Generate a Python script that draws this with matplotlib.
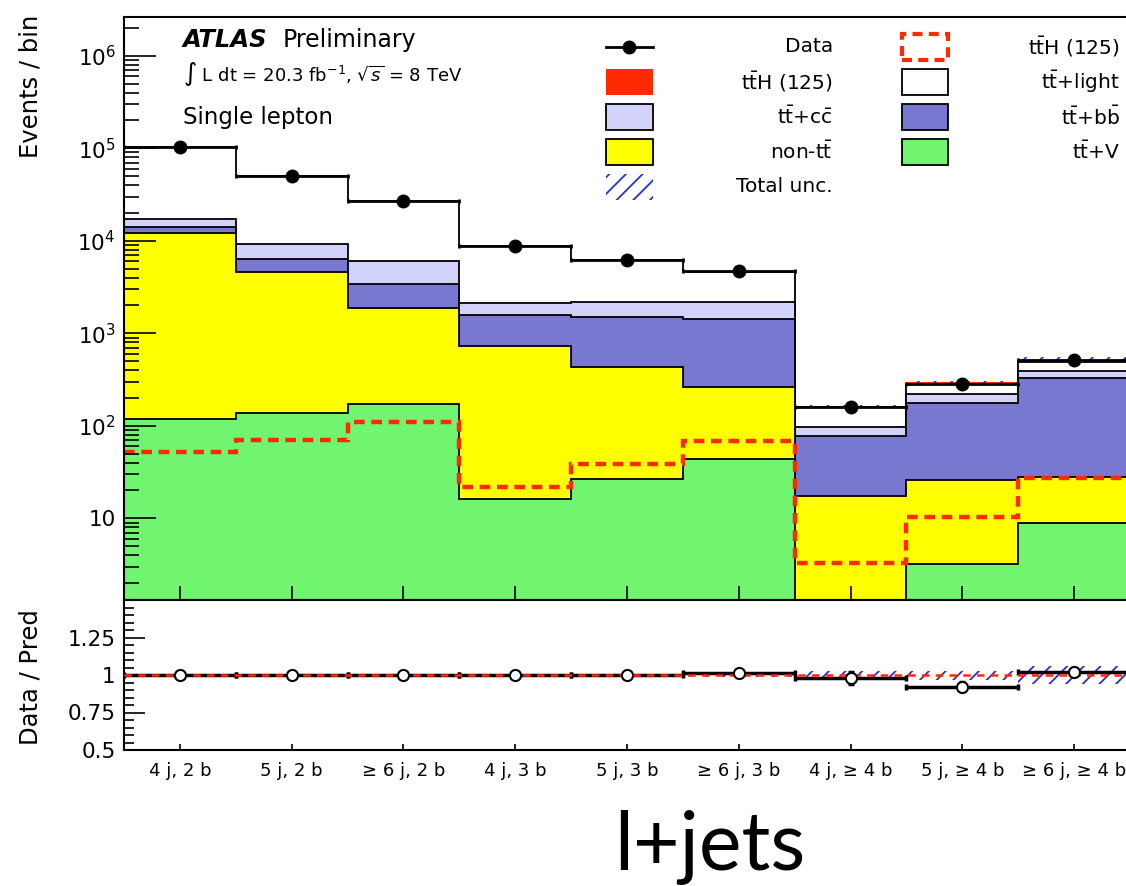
import numpy as np
import matplotlib.pyplot as plt
from matplotlib.patches import Rectangle
from matplotlib.lines import Line2D
from matplotlib.ticker import FixedLocator, LogLocator, MultipleLocator, NullFormatter

categories = ['4 j, 2 b', '5 j, 2 b', '≥ 6 j, 2 b', '4 j, 3 b', '5 j, 3 b', '≥ 6 j, 3 b',
              '4 j, ≥ 4 b', '5 j, ≥ 4 b', '≥ 6 j, ≥ 4 b']
data = [103000, 50000, 27000, 8800, 6200, 4700, 160, 281, 513]
# stacked backgrounds, bottom to top
ttV = [118, 136, 172, 16.3, 26.3, 43.6, 1.0, 3.2, 8.8]
non_tt = [12080, 4414, 1688, 712, 408, 216, 16.5, 22.7, 19.2]
tt_bb = [1900, 1750, 1520, 842, 1076, 1170, 60.5, 149, 297]
tt_cc = [3100, 3000, 2720, 530, 660, 740, 19.6, 45, 68]
tt_light = [85700, 40600, 20800, 6680, 4000, 2410, 61, 65, 100]
ttH = [52, 71, 110, 22, 39, 68, 3.3, 10.4, 27]
ratio = [1.0, 1.0, 0.997, 1.003, 0.998, 1.011, 0.978, 0.922, 1.022]
ratio_err = [0.003, 0.004, 0.005, 0.01, 0.012, 0.015, 0.04, 0.03, 0.025]
total_unc = [0.004, 0.004, 0.005, 0.006, 0.007, 0.01, 0.03, 0.03, 0.06]

colors = ['#71f571', '#ffff00', '#7878d0', '#d2d2fa', '#ffffff', '#ff2a00']
hatch_blue = '#2233cc'
plt.rcParams['hatch.linewidth'] = 1.3

W, H = 1126, 886
def fx(px): return px / W
def fy(py): return 1 - py / H

fig = plt.figure(figsize=(W / 100, H / 100), dpi=100)
ax = fig.add_axes([fx(124), fy(600), (1130 - 124) / W, (600 - 17) / H])
rax = fig.add_axes([fx(124), fy(750), (1130 - 124) / W, 150 / H])

n = len(categories)
edges = np.arange(n + 1)
centers = edges[:-1] + 0.5

# ---- main panel
stack = np.cumsum(np.vstack([ttV, non_tt, tt_bb, tt_cc, tt_light, ttH]), axis=0)
for i in range(len(stack) - 1, -1, -1):
    ec = 'none' if i == len(stack) - 1 else 'black'
    ax.stairs(stack[i], edges, baseline=1e-2, fill=True, facecolor=colors[i],
              edgecolor=ec, linewidth=1.3)
pred = stack[-1]
unc = np.array(total_unc)
ax.bar(centers, 2 * unc * pred, bottom=pred * (1 - unc), width=1, fill=False,
       hatch='//', edgecolor=hatch_blue, linewidth=0)
ax.stairs(ttH, edges, baseline=None, color='#ff2a00', linewidth=3.2,
          linestyle=(0, (2.4, 1.5)))
ax.errorbar(centers, data, xerr=0.5, fmt='o', color='black', ms=9, lw=2,
            capsize=1.5, capthick=2, zorder=5)

ax.set_xlim(0, n)
ax.set_yscale('log')
ax.set_ylim(1.31, 2.62e6)
ax.yaxis.set_major_locator(FixedLocator([10, 1e2, 1e3, 1e4, 1e5, 1e6]))
ax.set_yticklabels(['10', '$10^2$', '$10^3$', '$10^4$', '$10^5$', '$10^6$'])
ax.yaxis.set_minor_locator(LogLocator(subs=np.arange(2, 10), numticks=20))
ax.yaxis.set_minor_formatter(NullFormatter())
ax.tick_params(axis='y', which='major', direction='in', length=23, width=1.2,
               labelsize=15.5, pad=6)
ax.tick_params(axis='y', which='minor', direction='in', length=11, width=1.2)
ax.set_xticks(centers)
ax.tick_params(axis='x', direction='in', length=10, width=1.2, labelbottom=False)
for s in ax.spines.values():
    s.set_linewidth(1.5)

# ---- ratio panel
rax.bar(centers, 2 * unc, bottom=1 - unc, width=1, fill=False, hatch='//',
        edgecolor=hatch_blue, linewidth=0)
rax.errorbar(centers, ratio, xerr=0.5, yerr=ratio_err, fmt='none', ecolor='black',
             elinewidth=2.5, capsize=2.5, capthick=2.5, zorder=2)
rax.axhline(1, color='#ff2a00', linewidth=1.8, linestyle=(0, (3, 2.5)), zorder=3)
rax.plot(centers, ratio, 'o', mfc='white', mec='black', mew=1.5, ms=8, zorder=4)

rax.set_xlim(0, n)
rax.set_ylim(0.5, 1.5)
rax.set_yticks([0.5, 0.75, 1, 1.25])
rax.set_yticklabels(['0.5', '0.75', '1', '1.25'])
rax.yaxis.set_minor_locator(MultipleLocator(0.05))
rax.tick_params(axis='y', which='major', direction='in', length=15, width=1.2,
                labelsize=15.5, pad=6)
rax.tick_params(axis='y', which='minor', direction='in', length=7, width=1.2)
rax.set_xticks(centers)
rax.set_xticklabels(categories)
rax.tick_params(axis='x', direction='in', length=4.5, width=1.2, labelsize=13, pad=9)
for s in rax.spines.values():
    s.set_linewidth(1.5)

# ---- axis titles
fig.text(fx(31), fy(15), 'Events / bin', rotation=90, ha='center', va='top', fontsize=17.5)
fig.text(fx(31), fy(677), 'Data / Pred', rotation=90, ha='center', va='center', fontsize=17.5)

# ---- labels
fig.text(fx(183), fy(47), 'ATLAS', fontsize=17.5, fontweight='bold', fontstyle='italic')
fig.text(fx(283), fy(47), 'Preliminary', fontsize=17)
fig.text(fx(183), fy(81), r'$\int$ L dt = 20.3 fb$^{-1}$, $\sqrt{s}$ = 8 TeV', fontsize=13)
fig.text(fx(183), fy(124), 'Single lepton', fontsize=16.5)

# ---- legend
bw, bh = 47, 25
rows = [47, 82, 117, 152, 187]
entries = [
    (629, rows[0], 'data', None, 'Data', 833),
    (629, rows[1], 'box', colors[5], r't$\bar{\rm t}$H (125)', 833),
    (629, rows[2], 'box', colors[3], r't$\bar{\rm t}$+c$\bar{\rm c}$', 833),
    (629, rows[3], 'box', colors[1], r'non-t$\bar{\rm t}$', 833),
    (629, rows[4], 'hatch', None, 'Total unc.', 833),
    (925, rows[0], 'dash', None, r't$\bar{\rm t}$H (125)', 1120),
    (925, rows[1], 'box', colors[4], r't$\bar{\rm t}$+light', 1120),
    (925, rows[2], 'box', colors[2], r't$\bar{\rm t}$+b$\bar{\rm b}$', 1120),
    (925, rows[3], 'box', colors[0], r't$\bar{\rm t}$+V', 1120),
]
for cx, cy, kind, col, label, tx in entries:
    x0, y0 = fx(cx - bw / 2), fy(cy + bh / 2)
    if kind == 'data':
        fig.add_artist(Line2D([fx(cx - bw / 2), fx(cx + bw / 2)], [fy(cy), fy(cy)],
                              color='black', lw=2))
        fig.add_artist(Line2D([fx(cx)], [fy(cy)], marker='o', color='black', ms=9))
    elif kind == 'box':
        ec = 'none' if col == colors[5] else 'black'
        fig.add_artist(Rectangle((x0, y0), bw / W, bh / H, facecolor=col,
                                 edgecolor=ec, lw=1.3, transform=fig.transFigure))
    elif kind == 'hatch':
        fig.add_artist(Rectangle((x0, y0), bw / W, bh / H, fill=False, hatch='//',
                                 edgecolor=hatch_blue, lw=0, transform=fig.transFigure))
    elif kind == 'dash':
        fig.add_artist(Rectangle((x0, y0), bw / W, bh / H, fill=False,
                                 edgecolor='#ff2a00', lw=3, linestyle=(0, (2.4, 1.5)),
                                 transform=fig.transFigure))
    fig.text(fx(tx), fy(cy), label, ha='right', va='center', fontsize=14.5)

fig.text(fx(710), fy(870), 'l+jets', ha='center', va='baseline', fontsize=58,
         family=['Lato', 'DejaVu Sans'])

fig.savefig('out.png', dpi=100)
